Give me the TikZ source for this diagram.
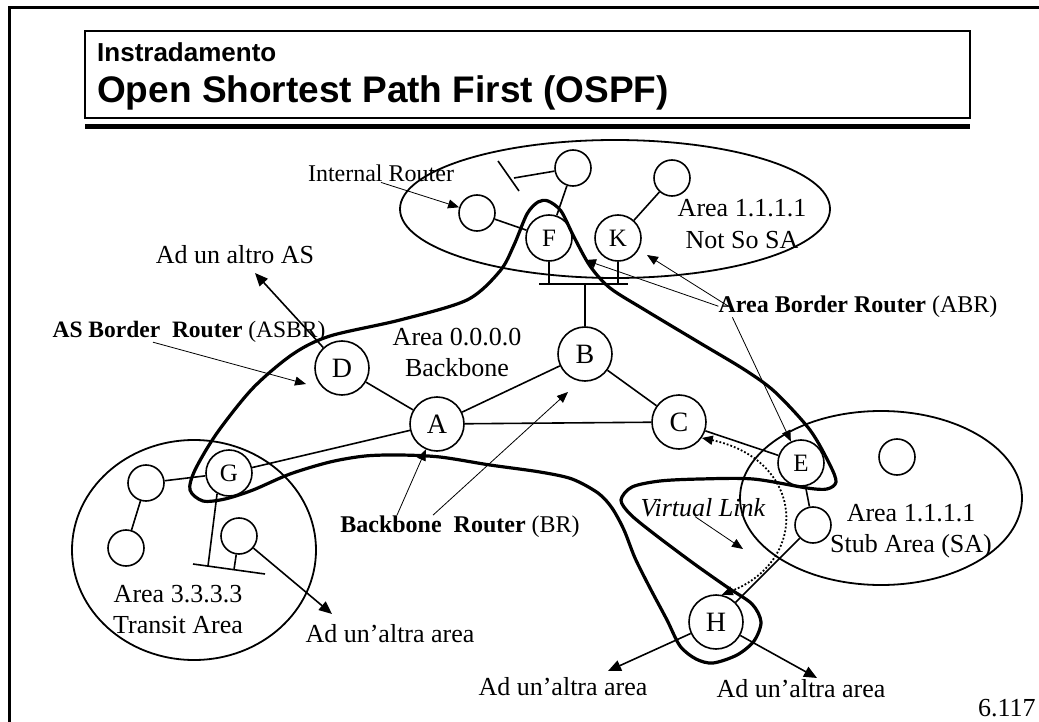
\documentclass[tikz,border=0pt]{standalone}
\usepackage{fontspec}
\setmainfont{Liberation Serif}
\newfontfamily\headfont{Liberation Sans}
\usetikzlibrary{arrows.meta}

\newcommand{\twolines}[2]{\begin{tabular}[t]{@{}c@{}}#1\\#2\end{tabular}}

\tikzset{
  rtr/.style={circle, draw, line width=1.6pt, minimum size=54pt, inner sep=0pt,
    font=\fontsize{28}{30}\selectfont},
  srtr/.style={rtr, minimum size=46pt, font=\fontsize{25}{27}\selectfont},
  host/.style={circle, draw, line width=1.6pt, minimum size=36pt, inner sep=0pt},
  link/.style={line width=1.6pt},
  area/.style={line width=1.8pt},
  border/.style={line width=3.2pt, line join=round},
  callout/.style={line width=0.8pt, -{Triangle[length=11pt,width=9pt]}},
  exit/.style={line width=1.6pt, -{Triangle[length=13pt,width=11pt]}},
  vlink/.style={line width=1.8pt, dotted,
    {Triangle[length=11pt,width=9pt]}-{Triangle[length=11pt,width=9pt]}},
  lbl/.style={anchor=base, inner sep=0pt, font=\fontsize{26}{31.5}\selectfont},
  note/.style={anchor=base, inner sep=0pt, font=\fontsize{24}{28}\selectfont},
}

\begin{document}
\begin{tikzpicture}[x=1pt,y=-1pt]
    \useasboundingbox (0,0) rectangle (1039,722);

    % Slide frame and title block.
    \draw[line width=3pt] (9,722) -- (9,8) -- (1039,8);
    \draw[line width=1.5pt] (85,31) rectangle (970,118);
    \draw[line width=5pt] (85,126.5) -- (970,126.5);
    \node[anchor=base west, inner sep=0pt,
      font=\headfont\bfseries\fontsize{26}{28}\selectfont]
      (kicker) at (97,62) {Instradamento};
    \node[anchor=base west, inner sep=0pt,
      font=\headfont\bfseries\fontsize{37}{40}\selectfont]
      (title) at (97,103) {Open Shortest Path First (OSPF)};

    % The three non-backbone areas.
    \draw[area] (615,209) ellipse[x radius=215pt, y radius=69pt];
    \draw[area] (881,498) ellipse[x radius=141pt, y radius=87pt];
    \draw[area] (194,550) ellipse[x radius=122pt, y radius=110pt];

    % Routers with a name.
    \foreach \name/\x/\y in {A/437/424, B/585/354, C/679/422, D/342/368,
      H/716/622} {
      \node[rtr] (\name) at (\x,\y) {\name};
    }
    \foreach \name/\x/\y in {E/801/463, F/549/238, G/229/473, K/618/238} {
      \node[srtr] (\name) at (\x,\y) {\name};
    }

    % Plain routers inside the areas.
    \foreach \name/\x/\y in {IR/477/213, N1/573/168, N2/672/178,
      S1/897/457, S2/813/525, T1/146/483, T2/126/548, T3/239/536} {
      \node[host] (\name) at (\x,\y) {};
    }

    % Point-to-point links.
    \foreach \from/\to in {D/A, A/B, A/C, B/C, G/A, C/E, E/S2, S2/H,
      T1/G, T1/T2, IR/F, N1/F, K/N2} {
      \draw[link] (\from) -- (\to);
    }

    % LAN segments.
    \coordinate (lanL) at (539,284);
    \coordinate (lanR) at (628,284);
    \coordinate (lanF) at (549,284);
    \coordinate (lanK) at (618,284);
    \coordinate (lanB) at (585,284);
    \draw[link] (lanL) -- (lanR);
    \draw[link] (F) -- (lanF);
    \draw[link] (K) -- (lanK);
    \draw[link] (lanB) -- (B);

    \coordinate (cutA) at (498,161);
    \coordinate (cutB) at (519,191);
    \coordinate (cutN) at (514,178);
    \draw[link] (cutA) -- (cutB);
    \draw[link] (N1) -- (cutN);

    \coordinate (tlanL) at (193,564);
    \coordinate (tlanR) at (265,574);
    \coordinate (tlanG) at (208,566);
    \coordinate (tlanT) at (234,569.5);
    \draw[link] (tlanL) -- (tlanR);
    \draw[link] (G.-120) -- (tlanG);
    \draw[link] (T3) -- (tlanT);

    % Backbone boundary.
    \draw[border] plot[smooth cycle, tension=0.5] coordinates {
      (190,490) (195,470) (217,433) (253,388) (293,354) (330,336)
      (400,320) (467,300) (500,271) (514,245) (527,214) (538,202)
      (548,201) (561,211) (574,237) (590,266) (610,288) (645,310)
      (700,343) (745,370) (775,392) (810,430) (830,465) (836,482)
      (827,489) (807,488) (753,479) (700,479) (660,481) (632,487)
      (621,500) (630,514) (653,533) (693,563) (727,587) (752,604)
      (761,622) (754,641) (737,655) (713,663) (696,659) (680,646)
      (667,620) (650,588) (635,558) (624,530) (612,508) (598,493)
      (572,479) (540,472) (490,465) (440,457) (400,455) (365,456)
      (330,462) (290,474) (253,490) (225,499) (203,501)};

    % Labels.
    \node[note] (irlab) at (381,182) {Internal Router};
    \node[lbl] (aslab) at (235,263) {Ad un altro AS};
    \node[note, font=\fontsize{23.5}{28}\selectfont] (asbrlab) at (189,337)
      {\textbf{AS Border\ \ Router} (ASBR)};
    \node[lbl] (bblab) at (457,345) {\twolines{Area 0.0.0.0}{Backbone}};
    \node[lbl] (nsalab) at (742,217) {\twolines{Area 1.1.1.1}{Not So SA}};
    \node[note] (abrlab) at (858,312) {\textbf{Area Border Router} (ABR)};
    \node[note] (brlab) at (460,532) {\textbf{Backbone\ \ Router} (BR)};
    \node[lbl] (vllab) at (703,516) {\textit{Virtual Link}};
    \node[lbl] (salab) at (911,521) {\twolines{Area 1.1.1.1}{Stub Area (SA)}};
    \node[lbl] (talab) at (178,602) {\twolines{Area 3.3.3.3}{Transit Area}};
    \node[lbl] (tout) at (390,642) {Ad un’altra area};
    \node[lbl] (hLout) at (563,695) {Ad un’altra area};
    \node[lbl] (hRout) at (801,697) {Ad un’altra area};
    \node[lbl, anchor=base west] (page) at (978,716) {6.117};

    % Callout arrows.
    \coordinate (asTip) at (255,273);
    \coordinate (asbrTip) at (306,384);
    \coordinate (brTip) at (568,392);
    \coordinate (abrF) at (585,260);
    \coordinate (abrK) at (647,255);
    \coordinate (vlTip) at (743,549);
    \coordinate (tTip) at (332,614);
    \coordinate (hLTip) at (608,671);
    \coordinate (hRTip) at (817,678);

    \draw[callout] (irlab.south) -- (IR);
    \draw[callout] ([xshift=-36pt]asbrlab.south) -- (asbrTip);
    \draw[callout] ([xshift=-63pt]brlab.north) -- (A);
    \draw[callout] ([xshift=-27pt]brlab.north) -- (brTip);
    \draw[callout] (abrlab.west) -- (abrF);
    \draw[callout] ([xshift=10pt]abrlab.west) -- (abrK);
    \draw[callout] ([xshift=14pt]abrlab.south west) -- (E);
    \draw[callout] ([xshift=-8pt]vllab.south) -- (vlTip);

    % Links leaving the areas.
    \draw[exit] (D) -- (asTip);
    \draw[exit] (T3) -- (tTip);
    \draw[exit] (H) -- (hLTip);
    \draw[exit] (H) -- (hRTip);

    % Virtual link through the transit area.
    \draw[vlink] (C.-35) .. controls (805,460) and (810,560) .. (H.78);
  \end{tikzpicture}
\end{document}
